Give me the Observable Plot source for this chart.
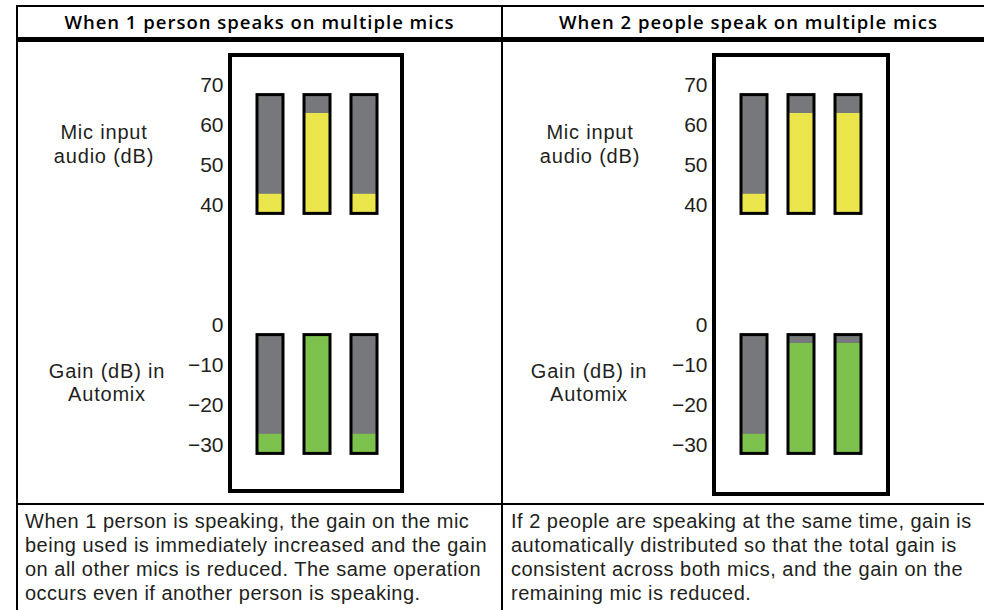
<!DOCTYPE html>
<html>
<head>
<meta charset="utf-8">
<script src="https://cdn.jsdelivr.net/npm/d3@7"></script>
<script src="https://cdn.jsdelivr.net/npm/@observablehq/plot@0.6"></script>
<style>
  html, body { margin: 0; padding: 0; background: #fff; }
  #fig { position: relative; width: 984px; height: 610px; overflow: hidden; background: #fff; }
  .ln { position: absolute; background: #000; }
  .hdr { position: absolute; top: 6px; height: 31px; line-height: 31px; text-align: center;
         font-family: "Open Sans", sans-serif; font-weight: 600; font-size: 18.5px; letter-spacing: 1px;
         color: #000; white-space: nowrap; }
  .body { position: absolute; top: 509px; font-family: "Liberation Sans", Arial, sans-serif; font-size: 20px;
          letter-spacing: 0.5px; line-height: 24px; color: #231f20; white-space: nowrap; }
  .lab { position: absolute; width: 180px; text-align: center; font-family: "Liberation Sans", Arial, sans-serif;
         font-size: 20px; letter-spacing: 0.8px; color: #231f20; white-space: nowrap; }
  .frame { position: absolute; border: 4.5px solid #000; box-sizing: border-box; }
  .plot { position: absolute; }
</style>
</head>
<body>
<div id="fig"></div>
<script>
// ---- data ----
const mics = ["Mic 1", "Mic 2", "Mic 3"];
const panelTitles = ["When 1 person speaks on multiple mics", "When 2 people speak on multiple mics"];
const descriptions = [
  ["When 1 person is speaking, the gain on the mic",
   "being used is immediately increased and the gain",
   "on all other mics is reduced. The same operation",
   "occurs even if another person is speaking."],
  ["If 2 people are speaking at the same time, gain is",
   "automatically distributed so that the total gain is",
   "consistent across both mics, and the gain on the",
   "remaining mic is reduced."]
];
const inputLabel = ["Mic input", "audio (dB)"];
const gainLabel = ["Gain (dB) in", "Automix"];
const inputTicks = [40, 50, 60, 70];
const gainTicks = [0, -10, -20, -30];
const inputMeterRange = [37.9, 67.6];
const gainMeterRange = [-32.1, -2.4];
const onePersonInput = [42.8, 63, 42.8];
const onePersonGain = [-27.2, -2.4, -27.2];
const twoPeopleInput = [42.8, 63, 63];
const twoPeopleGain = [-27.2, -4.5, -4.5];

// ---- style ----
const GRAY = "#77787b", YELLOW = "#e9e54b", GREEN = "#7cc24c", INK = "#231f20";

const fig = document.getElementById("fig");
function el(cls, css, html) {
  const d = document.createElement("div");
  d.className = cls;
  Object.assign(d.style, css);
  if (html != null) d.innerHTML = html;
  fig.appendChild(d);
  return d;
}

// table rules
el("ln", {left: "16px", top: "5px", width: "980px", height: "2px"});
el("ln", {left: "16px", top: "5px", width: "2px", height: "610px"});
el("ln", {left: "16px", top: "37px", width: "980px", height: "5px"});
el("ln", {left: "501px", top: "5px", width: "2px", height: "610px"});
el("ln", {left: "16px", top: "503px", width: "980px", height: "2px"});

// headers
el("hdr", {left: "18px", width: "483px"}, panelTitles[0]);
el("hdr", {left: "503px", width: "491px"}, panelTitles[1]);

// descriptions
el("body", {left: "25px"}, descriptions[0].join("<br>"));
el("body", {left: "511px"}, descriptions[1].join("<br>"));

function meter(values, range, domain, ticks, color, left, top) {
  const data = mics.map((m, i) => ({mic: m, v: values[i]}));
  const W = 280, H = 170, axisX = 106;
  const chart = Plot.plot({
    width: W, height: H,
    marginLeft: axisX, marginRight: 0, marginTop: 0, marginBottom: 0,
    x: {domain: mics, range: [136.5, 256.5], paddingInner: 0.447, paddingOuter: 0, axis: null},
    y: {domain, range: [145, 25]},
    style: {fontFamily: "'Liberation Sans', Arial, sans-serif", fontSize: "21px", color: INK, background: "transparent", overflow: "visible"},
    marks: [
      Plot.axisY({ticks, tickSize: 0, tickPadding: 3, label: null, fontSize: 21}),
      Plot.barY(data, {x: "mic", y1: range[0], y2: range[1], fill: GRAY}),
      Plot.barY(data, {x: "mic", y1: range[0], y2: "v", fill: color}),
      Plot.barY(data, {x: "mic", y1: range[0], y2: range[1], fill: "none", stroke: "#000", strokeWidth: 3})
    ]
  });
  chart.classList.add("plot");
  chart.style.left = left + "px";
  chart.style.top = top + "px";
  fig.appendChild(chart);
}

const panels = [
  {dx: 0, input: onePersonInput, gain: onePersonGain, frame: [228, 53, 176, 440], labIn: 14, labGain: 17},
  {dx: 484, input: twoPeopleInput, gain: twoPeopleGain, frame: [712, 53, 178, 443], labIn: 500, labGain: 499}
];
for (const p of panels) {
  const [fx, fy, fw, fh] = p.frame;
  el("frame", {left: fx + "px", top: fy + "px", width: fw + "px", height: fh + "px"});
  meter(p.input, inputMeterRange, [40, 70], inputTicks, YELLOW, 120 + p.dx, 60);
  meter(p.gain, gainMeterRange, [-30, 0], gainTicks, GREEN, 120 + p.dx, 300);
  el("lab", {left: p.labIn + "px", top: "120px", lineHeight: "24px"}, inputLabel.join("<br>"));
  el("lab", {left: p.labGain + "px", top: "360px", lineHeight: "23px"}, gainLabel.join("<br>"));
}
</script>
</body>
</html>
